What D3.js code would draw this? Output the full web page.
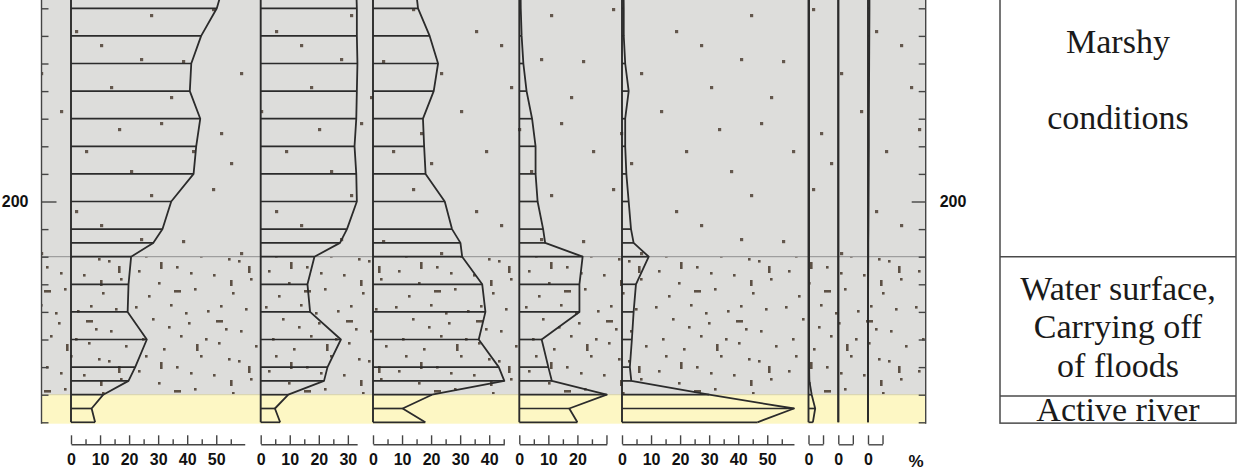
<!DOCTYPE html>
<html><head><meta charset="utf-8">
<script src="https://cdn.jsdelivr.net/npm/d3@7"></script>
<style>
html,body{margin:0;padding:0;background:#fff;}
svg{display:block;}
</style></head><body>
<svg id="c" width="1238" height="473"></svg>
<script>
// ---------- data ----------
const depths  = [120,130,140,150,160,170,180,190,200,210,215,220,230,240,250,260,265,270,275,280];
const series1 = [52.9,50.2,44.8,41.4,40.9,44.5,43.1,42.2,34.5,31.5,28.3,20.7,19.8,19.5,26.1,22.1,19.8,11.1,7.1,8.3];
const series2 = [32.8,33.1,33.1,33.3,33.1,32.9,32.3,32.9,33.1,29.7,27.3,18.5,16.1,17.0,27.6,23.0,21.8,9.5,4.9,6.7];
const series3 = [14.4,15.5,19.5,22.4,20.9,17.2,17.6,18.1,24.7,27.2,30.1,30.7,37.6,38.7,36.4,43.3,45.2,20.3,10.2,18.0];
const series4 = [0.4,0.5,0.8,1.4,2.5,4.4,5.6,5.6,6.3,8.2,8.9,21.8,20.7,20.7,7.7,10.0,11.2,30.1,17.2,20.0];
const series5 = [0.5,0.6,0.6,1.1,2.3,1.1,1.1,1.5,2.3,3.1,4.0,9.2,4.8,4.0,3.4,2.7,3.2,30.0,59.2,46.6];
const series6 = [0.2,0.2,0.2,0.2,0.2,0.2,0.2,0.2,0.2,0.2,0.2,0.2,0.2,0.2,0.2,0.2,0.3,1.1,2.3,1.5];
const series7 = [0,0,0,0,0,0,0,0,0,0,0,0,0,0,0,0,0,0,0,0];
const series8 = [0.5,0.5,0.45,0.4,0.35,0.3,0.3,0.25,0.2,0.15,0.1,0.1,0.05,0,0,0,0,0,0,0];
const allSeries = [series1,series2,series3,series4,series5,series6,series7,series8];

const axisMax    = [59.8,33.2,45.2,30.1,59.2,5,5,5];
const majorTicks = [[0,10,20,30,40,50],[0,10,20,30],[0,10,20,30,40],[0,10,20,30],[0,10,20,30,40,50],[0,5],[0,5],[0,5]];
const minorTicks = [[5,15,25,35,45,55],[5,15,25],[5,15,25,35,45],[5,15,25],[5,15,25,35,45,55],[],[],[]];
const tickLabels = [[0,10,20,30,40,50],[0,10,20,30],[0,10,20,30,40],[0,10,20],[0,10,20,30,40,50],[0],[0],[0]];
const unitLabel  = "%";

const depthTicks  = [130,140,150,160,170,180,190,200,210,220,230,240,250,260,270,280];
const depthLabels = [200];

const layerTops    = [100, 220, 270];
const layerBottoms = [220, 270, 280.5];
const layerKinds   = ["sparse","dense","clay"];

const zoneBounds = [100, 220, 270.5, 280.3];
const zoneLabels = [["Marshy","conditions"],["Water surface,","Carrying off","of floods"],["Active river"]];

// ---------- layout ----------
const plotL = 41.5, plotR = 925.7, plotB = 423.7;
const pxPerUnit = 2.905;
const panelX = [71, 260.7, 373, 519.3, 622, 808.5, 838.3, 868];
const axisY = 444.3;
const zoneL = 1000, zoneR = 1236;
const zoneTextY = [[53,129],[300,338,377],[421]];
const lineCol = "#2b2b2b";
const sansFont = "'Liberation Sans', Arial, Helvetica, sans-serif";
const serifFont = "'Liberation Serif', 'Times New Roman', 'DejaVu Serif', serif";

const svg = d3.select("#c");
const y = d3.scaleLinear().domain([130,280]).range([8.3,422.3]);

// patterns (lithology symbols)
const defs = svg.append("defs");
const dotCol = "#4e4034";
const sp = defs.append("pattern").attr("id","sparse").attr("patternUnits","userSpaceOnUse")
  .attr("width",200).attr("height",180);
sp.append("rect").attr("width",200).attr("height",180).attr("fill","#dddddb");
[[12,8],[75,30],[150,14],[182,60],[40,72],[110,86],[160,122],[20,132],[85,150],[130,170],[60,110],[192,150],[100,44],[140,58],[30,162],[170,96],[118,128]]
  .forEach(p=>sp.append("rect").attr("x",p[0]).attr("y",p[1]).attr("width",3.2).attr("height",3.2).attr("fill",dotCol).attr("opacity",0.85));
const dp = defs.append("pattern").attr("id","dense").attr("patternUnits","userSpaceOnUse")
  .attr("width",130).attr("height",100);
dp.append("rect").attr("width",130).attr("height",100).attr("fill","#dddddb");
[[5,6],[22,18],[40,4],[58,22],[77,10],[95,28],[115,8],[12,38],[33,48],[50,35],[70,55],[88,42],[108,60],[125,45],[8,70],[28,82],[46,66],[64,88],[83,74],[102,92],[120,78],[18,95],[55,12],[90,5],[38,26],[75,38],[110,30],[15,55],[60,72],[98,58]]
  .forEach(p=>dp.append("rect").attr("x",p[0]).attr("y",p[1]).attr("width",2.6).attr("height",2.6).attr("fill",dotCol).attr("opacity",0.9));
[[44,90,7,2.6],[86,20,7,2.6],[66,44,2.6,7],[118,66,2.6,7],[30,62,2.6,7],[100,80,2.6,6]]
  .forEach(p=>dp.append("rect").attr("x",p[0]).attr("y",p[1]).attr("width",p[2]).attr("height",p[3]).attr("fill",dotCol).attr("opacity",0.9));

// background layers
const fills = {sparse:"url(#sparse)", dense:"url(#dense)", clay:"#fdf7c4"};
layerKinds.forEach((k,i)=>{
  const t = Math.max(0, y(layerTops[i])), b = Math.min(plotB, y(layerBottoms[i]));
  svg.append("rect").attr("x",plotL).attr("y",t).attr("width",plotR-plotL).attr("height",b-t).attr("fill",fills[k]);
});
svg.append("line").attr("x1",plotL).attr("x2",plotR).attr("y1",y(220)).attr("y2",y(220))
  .attr("stroke","#8e8e8e").attr("stroke-width",1);
svg.append("line").attr("x1",plotL).attr("x2",plotR).attr("y1",y(270)).attr("y2",y(270))
  .attr("stroke","#d6d1ac").attr("stroke-width",1);

// panels
allSeries.forEach((vals,i)=>{
  const xs = d3.scaleLinear().domain([0,axisMax[i]]).range([panelX[i], panelX[i]+axisMax[i]*pxPerUnit]);
  const g = svg.append("g");
  const pts = depths.map((d,j)=>({d, v: vals[j]}));
  g.selectAll("line.h").data(pts).join("line")
    .attr("x1",xs(0)).attr("x2",p=>xs(p.v)).attr("y1",p=>y(p.d)).attr("y2",p=>y(p.d))
    .attr("stroke",lineCol).attr("stroke-width",1.7);
  g.append("path").datum(pts)
    .attr("d", d3.line().x(p=>xs(p.v)).y(p=>y(p.d)))
    .attr("fill","none").attr("stroke",lineCol).attr("stroke-width",1.8).attr("stroke-linejoin","round");
  g.append("line").attr("x1",xs(0)).attr("x2",xs(0)).attr("y1",y(depths[0])).attr("y2",y(depths[depths.length-1]))
    .attr("stroke",lineCol).attr("stroke-width",1.9);

  // bottom axis
  const ax = svg.append("g").attr("transform",`translate(0,${axisY})`)
    .call(d3.axisBottom(xs).tickValues(majorTicks[i]).tickSize(-9).tickSizeOuter(0).tickPadding(9)
      .tickFormat(d=> tickLabels[i].includes(d) ? d : ""));
  ax.select(".domain").attr("stroke","#444").attr("stroke-width",1.4);
  ax.selectAll(".tick line").attr("stroke","#444").attr("stroke-width",1.4);
  ax.selectAll("text").attr("font-family",sansFont).attr("font-weight","bold").attr("font-size",16).attr("fill","#111");
  if (minorTicks[i].length) {
    const mx = svg.append("g").attr("transform",`translate(0,${axisY})`)
      .call(d3.axisBottom(xs).tickValues(minorTicks[i]).tickSize(-5).tickFormat(""));
    mx.select(".domain").remove();
    mx.selectAll(".tick line").attr("stroke","#444").attr("stroke-width",1.4);
  }
});

svg.append("text").attr("x",916).attr("y",467).attr("text-anchor","middle")
  .attr("font-family",sansFont).attr("font-weight","bold").attr("font-size",17)
  .attr("fill","#111").text(unitLabel);

// depth axes
const la = svg.append("g").attr("transform",`translate(${plotL},0)`)
  .call(d3.axisLeft(y).tickValues(depthTicks).tickSize(-7).tickSizeOuter(0).tickPadding(13)
    .tickFormat(d=> depthLabels.includes(d) ? d : ""));
la.select(".domain").remove();
la.selectAll(".tick line").attr("stroke","#444").attr("stroke-width",1.4);
la.selectAll(".tick").filter(d=>depthLabels.includes(d)).select("line").attr("x2",15);
la.selectAll("text").attr("font-family",sansFont).attr("font-weight","bold").attr("font-size",16).attr("fill","#111");
svg.append("line").attr("x1",plotL).attr("x2",plotL).attr("y1",0).attr("y2",plotB)
  .attr("stroke","#444").attr("stroke-width",1.4);

const ra = svg.append("g").attr("transform",`translate(${plotR},0)`)
  .call(d3.axisRight(y).tickValues(depthTicks).tickSize(-7).tickSizeOuter(0).tickPadding(14)
    .tickFormat(d=> depthLabels.includes(d) ? d : ""));
ra.select(".domain").remove();
ra.selectAll(".tick line").attr("stroke","#444").attr("stroke-width",1.4);
ra.selectAll(".tick").filter(d=>depthLabels.includes(d)).select("line").attr("x2",-14);
ra.selectAll("text").attr("font-family",sansFont).attr("font-weight","bold").attr("font-size",16).attr("fill","#111");
svg.append("line").attr("x1",plotR).attr("x2",plotR).attr("y1",0).attr("y2",plotB)
  .attr("stroke","#444").attr("stroke-width",1.4);

// zone column
const zg = svg.append("g");
zg.append("rect").attr("x",zoneL).attr("y",-5).attr("width",zoneR-zoneL).attr("height",y(zoneBounds[3])+5)
  .attr("fill","#fff").attr("stroke","#4a4a4a").attr("stroke-width",1.5);
[zoneBounds[1], zoneBounds[2]].forEach(b=>{
  zg.append("line").attr("x1",zoneL).attr("x2",zoneR).attr("y1",y(b)).attr("y2",y(b))
    .attr("stroke","#4a4a4a").attr("stroke-width",1.5);
});
zoneLabels.forEach((lines,i)=>{
  lines.forEach((t,j)=>{
    zg.append("text").attr("x",(zoneL+zoneR)/2).attr("y",zoneTextY[i][j])
      .attr("text-anchor","middle")
      .attr("font-family",serifFont).attr("font-size",34).attr("fill","#1a1a1a")
      .text(t);
  });
});
</script>
</body></html>
